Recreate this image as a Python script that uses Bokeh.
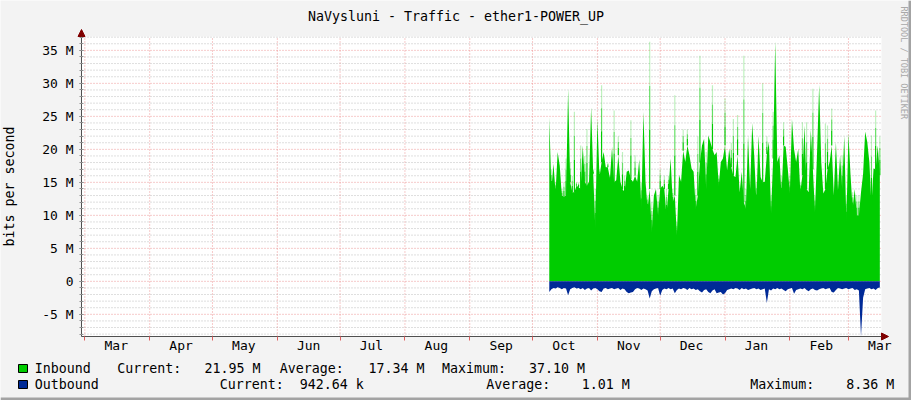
from datetime import date
import numpy as np
from bokeh.plotting import figure
from bokeh.models import Range1d, FixedTicker, Arrow, NormalHead
from bokeh.core.properties import value
from bokeh.embed import file_html
from bokeh.resources import INLINE

TITLE = "NaVysluni - Traffic - ether1-POWER_UP"
Y_LABEL = "bits per second"
WATERMARK = "RRDTOOL / TOBI OETIKER"

MONTH_LABELS = ["Mar", "Apr", "May", "Jun", "Jul", "Aug", "Sep",
                "Oct", "Nov", "Dec", "Jan", "Feb", "Mar"]
MONTH_STARTS = ["2024-03-01", "2024-04-01", "2024-05-01", "2024-06-01",
                "2024-07-01", "2024-08-01", "2024-09-01", "2024-10-01",
                "2024-11-01", "2024-12-01", "2025-01-01", "2025-02-01",
                "2025-03-01"]
VIEW_DAYS = (-1.6, 380.8)          # plotted window, days from 2024-03-01
Y_VIEW = (-8.36, 37.10)            # M bits/s
Y_TICKS = [-5, 0, 5, 10, 15, 20, 25, 30, 35]
Y_TICK_LABELS = ["-5 M", "0", "5 M", "10 M", "15 M", "20 M", "25 M", "30 M", "35 M"]
Y_MINOR = [-8, -7, -6, -5, -4, -3, -2, -1, 0, 1, 2, 3, 4, 5, 6, 7, 8, 9, 10,
           11, 12, 13, 14, 15, 16, 17, 18, 19, 20, 21, 22, 23, 24, 25, 26,
           27, 28, 29, 30, 31, 32, 33, 34, 35, 36, 37]

DATA_START = "2024-10-09"   # first daily sample

# Inbound: top of the solid part and top of the thin (faded) spike, M bits/s
IN_BASE = [
    24.9, 14, 17.8, 13.5, 19.6, 17.5, 13, 12.8, 13, 29.2,
    15, 13.5, 13.5, 14.5, 14.3, 14, 20.6, 15.1, 14.5, 15.1,
    26.4, 16.3, 8, 24.6, 15.8, 18.1, 19.6, 17.3, 17.3, 15.6,
    20.4, 15, 15.3, 19.1, 15.1, 14, 13.5, 16.6, 16.8, 15.5,
    15.1, 16, 15.1, 18.5, 11, 25.7, 15.1, 11, 14, 7.5,
    13, 14, 10, 14, 14.5, 14, 10, 14, 18.6, 12,
    13, 7, 16.1, 15.1, 19.8, 18.1, 20.6, 19.1, 17.1, 16.6,
    11, 13, 18, 20.6, 21.6, 14, 22.1, 21.1, 20, 19.1,
    19.6, 14.5, 18.1, 18.6, 20.6, 16.8, 20.1, 17.3, 16, 15.8,
    19.1, 13.5, 16.6, 12, 11, 22.1, 14, 24, 18.8, 12,
    22.1, 15.8, 15, 15.1, 19.3, 21.1, 10.3, 18.6, 36.4, 18.1,
    19.1, 13, 20.6, 20.4, 17.1, 13.3, 24.6, 20, 18.1, 20.1,
    13.5, 16.1, 23.6, 14, 13.5, 23, 17, 10.5, 19.6, 29.8,
    18.1, 13.3, 14, 17, 18.1, 20.6, 13, 21.1, 13.8, 19.1,
    14, 22.1, 9, 22.4, 16.1, 11, 14, 10, 10, 13.5,
    16.3, 22.7, 21.1, 18.1, 11.5, 17.1, 17, 20.6, 16.1,
]
IN_PEAK = [
    24.9, 17, 17.8, 15, 19.6, 17.5, 14, 15, 18.6, 29.2,
    18, 16, 25.7, 15, 15, 20.6, 20.6, 19, 23.1, 15.1,
    26.4, 17, 14, 24.6, 17, 29.7, 19.6, 17.3, 18, 16,
    20.4, 25.9, 15.3, 22, 15.1, 19.6, 16, 16.6, 16.8, 24.4,
    15.1, 19.1, 15.1, 18.5, 15, 25.7, 15.1, 13, 36.3, 12,
    13, 14, 13, 17, 14.5, 16, 14, 16, 18.6, 14,
    28.2, 9, 16.1, 15.1, 23, 18.1, 23, 19.1, 17.1, 16.6,
    14, 22, 34.2, 20.6, 21.6, 19.6, 22.1, 21.1, 29.7, 19.1,
    19.6, 16, 18.1, 18.6, 27.7, 16.8, 20.1, 21, 24.6, 15.8,
    25.2, 13.5, 16.6, 34.2, 14, 22.1, 14, 24, 18.8, 15,
    22.1, 15.8, 30, 15.1, 22, 21.1, 13, 25.7, 36.4, 18.1,
    19.1, 16, 24.1, 20.4, 17.1, 16, 24.6, 20, 18.1, 20.1,
    15, 24.1, 23.6, 24.1, 13.5, 23, 29.2, 13, 19.6, 29.8,
    18.1, 13.3, 23.9, 23.6, 18.1, 26.2, 13, 21.1, 13.8, 19.1,
    19.1, 22.1, 13, 22.4, 16.1, 13.5, 14, 13, 13, 13.5,
    16.3, 22.7, 21.1, 18.1, 22.1, 17.1, 25.9, 20.6, 21.95,
]
# Outbound, M bits/s (drawn below zero)
OUT = [
    1.6, 1.2, 1.0, 1.1, 0.9, 1.0, 1.2, 1.0, 1.1, 2.1,
    1.2, 1.0, 0.9, 1.1, 1.0, 1.2, 1.0, 1.3, 1.1, 1.0,
    1.4, 1.1, 1.0, 1.2, 1.5, 1.6, 1.1, 1.0, 1.2, 1.1,
    1.0, 1.2, 1.1, 1.0, 1.3, 1.1, 1.2, 1.6, 1.8, 1.7,
    1.6, 1.2, 1.0, 1.1, 1.3, 1.1, 1.2, 1.4, 2.6, 1.5,
    1.2, 1.1, 1.0, 2.2, 1.3, 1.1, 1.2, 1.0, 1.2, 1.1,
    1.8, 1.3, 1.1, 1.2, 1.0, 1.1, 1.3, 1.0, 1.2, 1.1,
    1.3, 1.2, 1.5, 1.7, 1.3, 1.2, 1.6, 1.8, 1.4, 1.2,
    1.8, 1.7, 1.6, 2.0, 1.8, 1.3, 1.2, 1.1, 1.2, 1.0,
    1.1, 1.3, 1.0, 1.2, 1.1, 1.3, 1.2, 1.1, 1.0, 1.2,
    1.1, 1.3, 1.2, 1.1, 3.3, 1.2, 1.4, 1.1, 1.2, 1.0,
    1.2, 1.1, 1.3, 1.5, 1.2, 1.1, 1.0, 1.9, 1.3, 1.2,
    1.1, 1.2, 1.0, 1.3, 1.5, 1.2, 1.1, 1.3, 1.4, 1.2,
    1.1, 1.0, 1.2, 1.1, 1.0, 1.6, 1.7, 1.3, 1.0, 1.1,
    1.2, 1.1, 1.0, 1.2, 1.1, 1.0, 1.3, 1.2, 1.4, 8.36,
    2.5, 1.2, 1.1, 1.0, 1.2, 1.1, 1.3, 1.0, 0.94,
]

SERIES_NAMES = ["Inbound", "Outbound"]
LEGEND_ITEMS = [
    [("Current:", 116.7), ("21.95 M", 204), ("Average:", 279.3),
     ("17.34 M", 367.9), ("Maximum:", 441.4), ("37.10 M", 528.4)],
    [("Current:", 219.3), ("942.64 k", 299.3), ("Average:", 485.8),
     ("1.01 M", 581.2), ("Maximum:", 749.7), ("8.36 M", 845.8)],
]

GREEN = "#00CC00"
BLUE = "#002A97"
BACK = "#F3F3F3"
SHADE = "#A3A3A3"
MGRID = "#E87C7C"
FONT = "DejaVu Sans Mono"

# ---- layout: the frame fills the canvas; the graph area sits inside it ----
W, H = 911, 400
FL, FT, FR, FB = 81, 36, 881, 336          # graph-area edges in canvas px
dpp = (VIEW_DAYS[1] - VIEW_DAYS[0]) / (FR - FL)
mpp = (Y_VIEW[1] - Y_VIEW[0]) / (FB - FT)
X_RANGE = (VIEW_DAYS[0] - FL * dpp, VIEW_DAYS[1] + (W - FR) * dpp)
Y_RANGE = (Y_VIEW[0] - (H - FB) * mpp, Y_VIEW[1] + FT * mpp)

def px2x(px):
    return VIEW_DAYS[0] + (px - FL) * dpp

def py2y(py):
    return Y_VIEW[0] + (FB - py) * mpp

origin = date.fromisoformat(MONTH_STARTS[0])
month_x = [(date.fromisoformat(s) - origin).days for s in MONTH_STARTS]
mid_x = [m + 15 for m in month_x]
x0 = (date.fromisoformat(DATA_START) - origin).days
x = x0 + np.arange(len(IN_BASE))
base = np.array(IN_BASE, dtype=float)
peak = np.array(IN_PEAK, dtype=float)
out = np.array(OUT, dtype=float)

p = figure(width=W, height=H, output_backend="svg", toolbar_location=None,
           x_range=Range1d(*X_RANGE), y_range=Range1d(*Y_RANGE),
           min_border=0, min_border_left=0, min_border_right=0,
           min_border_top=0, min_border_bottom=0)
p.title.visible = False
p.background_fill_color = BACK
p.border_fill_color = BACK
p.outline_line_color = None
p.grid.visible = False

# graph canvas (white) and grid
p.quad(left=[VIEW_DAYS[0]], right=[VIEW_DAYS[1]], bottom=[Y_VIEW[0]], top=[Y_VIEW[1]],
       fill_color="white", line_color=None)
minor_only = [v for v in Y_MINOR if v not in Y_TICKS]
p.segment(x0=VIEW_DAYS[0], x1=VIEW_DAYS[1], y0=minor_only, y1=minor_only,
          line_color="#BDBDBD", line_dash="1 2", line_width=1)
p.segment(x0=VIEW_DAYS[0], x1=VIEW_DAYS[1], y0=Y_TICKS, y1=Y_TICKS,
          line_color=MGRID, line_alpha=0.8, line_dash="1 2", line_width=1)
p.segment(x0=month_x, x1=month_x, y0=Y_VIEW[0], y1=Y_VIEW[1],
          line_color=MGRID, line_alpha=0.8, line_dash="1 2", line_width=1)

# axes pinned to the graph-area edges
p.xaxis.fixed_location = Y_VIEW[0]
p.xaxis.bounds = VIEW_DAYS
p.xaxis.ticker = FixedTicker(ticks=mid_x, minor_ticks=month_x)
p.xaxis.major_label_overrides = {m: lab for m, lab in zip(mid_x, MONTH_LABELS)}
p.xaxis.major_tick_line_color = None
p.xaxis.major_tick_out = 0
p.xaxis.major_tick_in = 0
p.xaxis.minor_tick_line_color = "#E06060"
p.xaxis.minor_tick_in = 0
p.xaxis.minor_tick_out = 4
p.xaxis.major_label_standoff = -3
p.yaxis.fixed_location = VIEW_DAYS[0]
p.yaxis.bounds = Y_VIEW
p.yaxis.ticker = FixedTicker(ticks=Y_TICKS, minor_ticks=Y_MINOR)
p.yaxis.major_label_overrides = {t: lab for t, lab in zip(Y_TICKS, Y_TICK_LABELS)}
p.yaxis.major_tick_in = 2
p.yaxis.major_tick_out = 2
p.yaxis.minor_tick_in = 2
p.yaxis.minor_tick_out = 2
p.yaxis.major_tick_line_color = "#808080"
p.yaxis.minor_tick_line_color = "#909090"
p.yaxis.major_label_standoff = 6
p.yaxis.axis_label = Y_LABEL
p.yaxis.axis_label_standoff = 22
p.yaxis.axis_label_text_font_style = "normal"
for ax in (p.xaxis[0], p.yaxis[0]):
    ax.axis_line_color = "#505050"
    ax.major_label_text_font = FONT
    ax.major_label_text_font_size = "13px"
    ax.major_label_text_color = "black"
    ax.axis_label_text_font = FONT
    ax.axis_label_text_font_size = "13.3px"
    ax.axis_label_text_color = "black"

# data
p.varea(x=x, y1=0, y2=base, fill_color=GREEN)
steps = [(0.0, 0.4, 1.0), (0.4, 0.7, 0.6), (0.7, 1.0, 0.25)]
for f0, f1, a in steps:
    p.segment(x0=x, x1=x, y0=base + f0 * (peak - base), y1=base + f1 * (peak - base),
              line_color=GREEN, line_alpha=a, line_width=1.2)
p.varea(x=x, y1=0, y2=-out, fill_color=BLUE)

# axis arrows
ah = dict(size=7, fill_color="#800000", line_color="#800000")
p.add_layout(Arrow(x_start=VIEW_DAYS[0], y_start=Y_VIEW[1], x_end=VIEW_DAYS[0],
                   y_end=py2y(29), line_color="#505050", end=NormalHead(**ah)))
p.add_layout(Arrow(x_start=VIEW_DAYS[1], y_start=Y_VIEW[0], x_end=px2x(888),
                   y_end=Y_VIEW[0], line_color="#505050", end=NormalHead(**ah)))

# border shades
p.quad(left=[px2x(908), X_RANGE[0]], right=[X_RANGE[1], X_RANGE[1]],
       bottom=[Y_RANGE[0], Y_RANGE[0]], top=[Y_RANGE[1], py2y(397)],
       fill_color=SHADE, line_color=None)

# title and watermark
p.text(x=[px2x(455.5)], y=[py2y(15.5)], text=[TITLE], text_font=value(FONT),
       text_font_size=value("13.3px"), text_align="center", text_baseline="middle",
       text_color="black")
p.text(x=[px2x(903.5)], y=[py2y(6)], text=[WATERMARK], text_font=value(FONT),
       text_font_size=value("8.5px"), text_align="left", text_baseline="middle",
       text_color="#A8A8A8", angle=-np.pi / 2)

# legend
ROW_Y = [368, 384]
p.quad(left=[px2x(18)] * 2, right=[px2x(27)] * 2,
       top=[py2y(yy - 4) for yy in ROW_Y], bottom=[py2y(yy + 4) for yy in ROW_Y],
       fill_color=[GREEN, BLUE], line_color="black", line_width=1)
tx, ty, tt = [], [], []
for name, yy, items in zip(SERIES_NAMES, ROW_Y, LEGEND_ITEMS):
    tx.append(px2x(34.3)); ty.append(py2y(yy)); tt.append(name)
    for txt, px in items:
        tx.append(px2x(px)); ty.append(py2y(yy)); tt.append(txt)
p.text(x=tx, y=ty, text=tt, text_font=value(FONT), text_font_size=value("13.3px"),
       text_align="left", text_baseline="middle", text_color="black")

open("out.html", "w").write(file_html(p, INLINE))
